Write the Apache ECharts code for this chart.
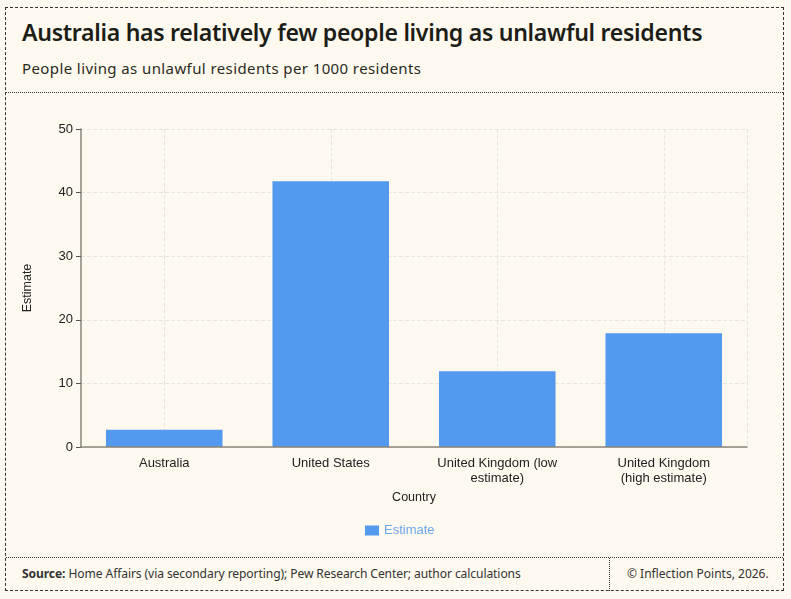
<!DOCTYPE html>
<html>
<head>
<meta charset="utf-8">
<script src="https://cdn.jsdelivr.net/npm/echarts@6/dist/echarts.min.js"></script>
<style>
  html, body { margin:0; padding:0; background:#fef9ee; }
  body { width:791px; height:599px; position:relative; overflow:hidden; font-family:"Noto Sans", sans-serif; }
  #frame { position:absolute; left:5px; top:7px; width:777px; height:582px; border:1px dashed #333; box-sizing:content-box; }
  #header { position:absolute; left:0; top:0; width:777px; height:84px; border-bottom:1px dotted #333; }
  #title { position:absolute; left:16px; top:8px; font-size:23.1px; font-weight:600; color:#1d1d17; letter-spacing:-0.3px; white-space:nowrap; }
  #subtitle { position:absolute; left:16px; top:50px; font-size:15px; color:#2a2a24; letter-spacing:0.4px; white-space:nowrap; }
  #chart { position:absolute; left:0; top:85px; width:777px; height:464px; }
  #footer { position:absolute; left:0; top:549px; width:777px; height:33px; border-top:1px dotted #333; }
  #source { position:absolute; left:16px; top:7px; font-size:12.1px; color:#333; letter-spacing:-0.1px; white-space:nowrap; }
  #divider { position:absolute; left:603px; top:0; height:33px; border-left:1px dotted #333; }
  #copy { position:absolute; left:621px; top:7px; font-size:12px; color:#333; letter-spacing:0px; white-space:nowrap; }
</style>
</head>
<body>
<div id="frame">
  <div id="header">
    <div id="title">Australia has relatively few people living as unlawful residents</div>
    <div id="subtitle">People living as unlawful residents per 1000 residents</div>
  </div>
  <div id="chart"></div>
  <div id="footer">
    <div id="source"><b>Source:</b> Home Affairs (via secondary reporting); Pew Research Center; author calculations</div>
    <div id="divider"></div>
    <div id="copy">© Inflection Points, 2026.</div>
  </div>
</div>
<script>
const categories = ["Australia", "United States", "United Kingdom (low\nestimate)", "United Kingdom\n(high estimate)"];
const estimateValues = [2.7, 41.8, 11.9, 17.9];
const yTicks = [0, 10, 20, 30, 40, 50];

// half-category slots used only to place vertical grid lines at category centres
const halfSlots = [];
categories.forEach(function (c, i) { halfSlots.push('a' + i, 'b' + i); });

const gridLine = { color: '#ebe6db', type: 'dashed', width: 1 };

const chart = echarts.init(document.getElementById('chart'), null, {renderer:'canvas'});
chart.setOption({
  backgroundColor: 'transparent',
  animation: false,
  textStyle: { fontFamily: 'Liberation Sans, Arial, sans-serif' },
  grid: { left: 75, right: 36, top: 36, bottom: 110 },
  legend: {
    data: ['Estimate'],
    bottom: 15,
    left: 354,
    itemWidth: 14, itemHeight: 10,
    icon: 'rect',
    textStyle: { color: '#6ea6ee', fontSize: 13 }
  },
  xAxis: [{
    type: 'category',
    data: categories,
    name: 'Country',
    nameLocation: 'middle',
    nameGap: 41,
    nameTextStyle: { color: '#222', fontSize: 12.5 },
    axisLine: { lineStyle: { color: '#8a8578', width: 1.5 } },
    axisTick: { alignWithLabel: true, length: 5, lineStyle: { color: '#555' } },
    axisLabel: { color: '#222', fontSize: 13, lineHeight: 15, margin: 9 },
    splitLine: { show: false },
    z: 3
  }, {
    type: 'category',
    data: halfSlots,
    position: 'bottom',
    axisLine: { show: false },
    axisTick: { show: false },
    axisLabel: { show: false },
    splitLine: {
      show: true,
      interval: function (index) { return index % 2 === 1 || index === halfSlots.length; },
      lineStyle: gridLine
    }
  }],
  yAxis: {
    type: 'value',
    min: yTicks[0], max: yTicks[yTicks.length-1], interval: 10,
    name: 'Estimate',
    nameLocation: 'middle',
    nameGap: 47,
    nameTextStyle: { color: '#222', fontSize: 12.5 },
    axisLine: { show: true, lineStyle: { color: '#8a8578', width: 1.5 } },
    axisTick: { show: true, length: 5, lineStyle: { color: '#555' } },
    axisLabel: { color: '#222', fontSize: 13, margin: 8 },
    splitLine: { show: true, lineStyle: gridLine }
  },
  series: [{
    name: 'Estimate',
    type: 'bar',
    xAxisIndex: 0,
    data: estimateValues,
    barCategoryGap: '30%',
    itemStyle: { color: '#5399ef' }
  }]
});
</script>
</body>
</html>
